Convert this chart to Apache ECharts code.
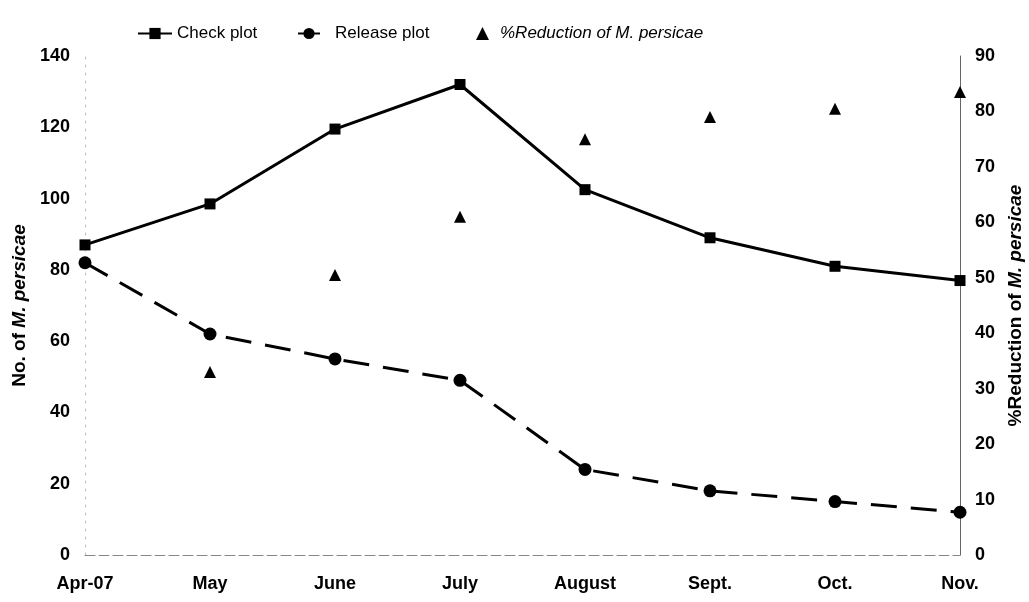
<!DOCTYPE html>
<html>
<head>
<meta charset="utf-8">
<script src="https://cdn.jsdelivr.net/npm/echarts@6/dist/echarts.min.js"></script>
<style>
html,body{margin:0;padding:0;background:#fff;}
#chart{width:1029px;height:602px;}
</style>
</head>
<body>
<div id="chart"></div>
<script>
var categories = ['Apr-07', 'May', 'June', 'July', 'August', 'Sept.', 'Oct.', 'Nov.'];
var checkPlot = [87, 98.5, 119.5, 132, 102.5, 89, 81, 77];
var releasePlot = [82, 62, 55, 49, 24, 18, 15, 12];
var reduction = [null, 33, 50.5, 61, 75, 79, 80.5, 83.5];
var leftTicks = [0, 140, 20];
var rightTicks = [0, 90, 10];

var FONT = '"Liberation Sans", Arial, sans-serif';
var chart = echarts.init(document.getElementById('chart'));
chart.setOption({
  backgroundColor: '#fff',
  animation: false,
  textStyle: { fontFamily: FONT, color: '#000' },
  grid: { left: 85, right: 69, top: 56, bottom: 47, containLabel: false, outerBoundsMode: 'none' },
  legend: [
    { data: ['Check plot'], left: 132, top: 20, itemWidth: 34, itemHeight: 14,
      textStyle: { fontFamily: FONT, fontSize: 17, color: '#000' } },
    { data: ['Release plot'], left: 292, top: 20, itemWidth: 22, itemHeight: 14,
      textStyle: { fontFamily: FONT, fontSize: 17, color: '#000', padding: [0, 0, 0, 10] } },
    { data: ['%Reduction of M. persicae'], left: 471, top: 20, itemWidth: 13, itemHeight: 13,
      formatter: function () { return '{i|%Reduction of M. persicae}'; },
      textStyle: { fontFamily: FONT, fontSize: 17, color: '#000', padding: [0, 0, 0, 6],
        rich: { i: { fontFamily: FONT, fontSize: 17, fontStyle: 'italic', color: '#000' } } } }
  ],
  xAxis: {
    type: 'category',
    data: categories,
    boundaryGap: false,
    axisLine: { show: true, lineStyle: { color: '#888', width: 1, type: [10, 4] } },
    axisTick: { show: false },
    axisLabel: { fontFamily: FONT, fontSize: 18, fontWeight: 'bold', color: '#000', margin: 20 },
    splitLine: { show: false }
  },
  yAxis: [
    {
      type: 'value', min: leftTicks[0], max: leftTicks[1], interval: leftTicks[2],
      name: '{a|No. of }{b|M. persicae}',
      nameLocation: 'middle', nameGap: 56, nameRotate: 90,
      nameTextStyle: { rich: {
        a: { fontFamily: FONT, fontSize: 19, fontWeight: 'bold', color: '#000' },
        b: { fontFamily: FONT, fontSize: 19, fontWeight: 'bold', fontStyle: 'italic', color: '#000' } } },
      axisLine: { show: true, lineStyle: { color: '#bbb', width: 1, type: [2, 6] } },
      axisTick: { show: false },
      axisLabel: { fontFamily: FONT, fontSize: 18, fontWeight: 'bold', color: '#000', margin: 15 },
      splitLine: { show: false }
    },
    {
      type: 'value', min: rightTicks[0], max: rightTicks[1], interval: rightTicks[2],
      name: '{a|%Reduction of }{b|M. persicae}',
      nameLocation: 'middle', nameGap: 46, nameRotate: 90,
      nameTextStyle: { rich: {
        a: { fontFamily: FONT, fontSize: 19, fontWeight: 'bold', color: '#000' },
        b: { fontFamily: FONT, fontSize: 19, fontWeight: 'bold', fontStyle: 'italic', color: '#000' } } },
      axisLine: { show: true, lineStyle: { color: '#666', width: 1 } },
      axisTick: { show: false },
      axisLabel: { fontFamily: FONT, fontSize: 18, fontWeight: 'bold', color: '#000', margin: 15 },
      splitLine: { show: false }
    }
  ],
  series: [
    {
      name: 'Check plot', type: 'line', yAxisIndex: 0, data: checkPlot,
      symbol: 'rect', symbolSize: 11,
      lineStyle: { color: '#000', width: 3 },
      itemStyle: { color: '#000' }
    },
    {
      name: 'Release plot', type: 'line', yAxisIndex: 0, data: releasePlot,
      symbol: 'circle', symbolSize: 13,
      lineStyle: { color: '#000', width: 3, type: [26, 14] },
      itemStyle: { color: '#000' }
    },
    {
      name: '%Reduction of M. persicae', type: 'scatter', yAxisIndex: 1, data: reduction,
      symbol: 'triangle', symbolSize: 12,
      itemStyle: { color: '#000', opacity: 1 }
    }
  ]
});
</script>
</body>
</html>
